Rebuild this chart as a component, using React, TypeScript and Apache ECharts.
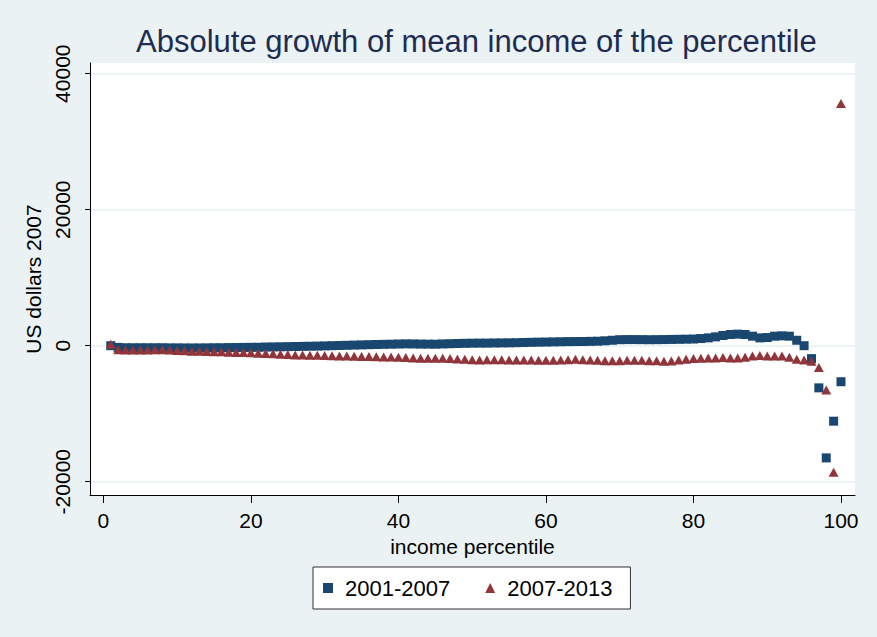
import React, { useEffect, useRef } from "react";
import * as echarts from "echarts";

const percentiles = [
  1, 2, 3, 4, 5, 6, 7, 8, 9, 10, 11, 12, 13, 14, 15, 16, 17, 18, 19, 20,
  21, 22, 23, 24, 25, 26, 27, 28, 29, 30, 31, 32, 33, 34, 35, 36, 37, 38, 39, 40,
  41, 42, 43, 44, 45, 46, 47, 48, 49, 50, 51, 52, 53, 54, 55, 56, 57, 58, 59, 60,
  61, 62, 63, 64, 65, 66, 67, 68, 69, 70, 71, 72, 73, 74, 75, 76, 77, 78, 79, 80,
  81, 82, 83, 84, 85, 86, 87, 88, 89, 90, 91, 92, 93, 94, 95, 96, 97, 98, 99, 100,
];

const growth2001_2007 = [
  0, -250, -300, -300, -300, -300, -300, -300, -320, -320,
  -330, -330, -330, -320, -300, -300, -280, -270, -250, -240,
  -230, -200, -180, -160, -140, -120, -100, -80, -60, -30,
  0, 30, 60, 90, 120, 150, 180, 200, 220, 250,
  270, 260, 240, 230, 220, 260, 290, 320, 350, 370,
  380, 380, 400, 410, 420, 440, 470, 500, 520, 540,
  560, 580, 600, 610, 620, 640, 660, 720, 800, 880,
  900, 900, 890, 880, 890, 900, 920, 940, 960, 980,
  1050, 1150, 1300, 1500, 1650, 1700, 1650, 1400, 1150, 1200,
  1400, 1450, 1400, 800, 0, -1900, -6200, -16500, -11100, -5300,
];

const growth2007_2013 = [
  200, -600, -650, -650, -650, -650, -600, -600, -650, -700,
  -750, -800, -800, -850, -900, -900, -950, -1000, -1000, -1050,
  -1100, -1150, -1200, -1250, -1300, -1350, -1380, -1400, -1420, -1450,
  -1480, -1500, -1520, -1550, -1580, -1600, -1620, -1650, -1680, -1700,
  -1750, -1800, -1850, -1850, -1850, -1850, -1900, -1950, -2000, -2050,
  -2100, -2050, -2050, -2050, -2100, -2100, -2100, -2100, -2150, -2150,
  -2150, -2100, -2050, -2000, -2050, -2100, -2150, -2200, -2200, -2200,
  -2150, -2150, -2150, -2200, -2200, -2300, -2250, -2100, -2000, -1900,
  -1850, -1800, -1800, -1750, -1800, -1800, -1700, -1500, -1450, -1500,
  -1500, -1500, -1700, -2000, -2100, -2300, -3200, -6500, -18600, 35600,
];

const xTicks = [0, 20, 40, 60, 80, 100];
const yTicks = [-20000, 0, 20000, 40000];
const seriesNames = ["2001-2007", "2007-2013"];

const FONT = "'Liberation Sans', Arial, Helvetica, sans-serif";

export default function App() {
  const ref = useRef<HTMLDivElement>(null);

  useEffect(() => {
    document.body.style.margin = "0";
    if (!ref.current) return;
    const chart = echarts.init(ref.current, null, { renderer: "svg" });
    const blue = percentiles.map((p, i) => [p, growth2001_2007[i]]);
    const red = percentiles.map((p, i) => [p, growth2007_2013[i]]);
    chart.setOption({
      animation: false,
      backgroundColor: "#eaf2f3",
      textStyle: { fontFamily: FONT },
      title: {
        text: "Absolute growth of mean income of the percentile",
        left: 136,
        top: 26,
        padding: 0,
        textStyle: {
          fontFamily: FONT,
          fontSize: 31,
          fontWeight: "normal",
          color: "#1e2b52",
        },
      },
      grid: {
        left: 90,
        right: 22,
        top: 63,
        bottom: 142,
        show: true,
        backgroundColor: "#ffffff",
        borderWidth: 0,
      },
      legend: {
        left: 313,
        top: 567,
        orient: "horizontal",
        backgroundColor: "#ffffff",
        borderColor: "#333333",
        borderWidth: 1,
        borderRadius: 0,
        padding: [10, 18, 10, 10],
        itemWidth: 10,
        itemHeight: 10,
        itemGap: 35,
        data: [
          { name: seriesNames[0], icon: "rect" },
          { name: seriesNames[1], icon: "triangle" },
        ],
        textStyle: {
          fontFamily: FONT,
          fontSize: 22,
          color: "#000",
          padding: [0, 0, 0, 7],
        },
      },
      xAxis: {
        type: "value",
        min: -1.817,
        max: 101.9,
        name: "income percentile",
        nameLocation: "middle",
        nameGap: 32,
        nameTextStyle: { fontFamily: FONT, fontSize: 21, color: "#000" },
        axisLine: { show: true, onZero: false, lineStyle: { color: "#000", width: 1 } },
        axisTick: { show: true, length: 8, customValues: xTicks, lineStyle: { color: "#000" } },
        axisLabel: {
          customValues: xTicks,
          margin: 15,
          fontFamily: FONT,
          fontSize: 21,
          color: "#000",
          formatter: (v: number) => String(v),
        },
        splitLine: { show: false },
      },
      yAxis: {
        type: "value",
        min: -21956,
        max: 41574,
        name: "US dollars 2007",
        nameLocation: "middle",
        nameGap: 35,
        nameRotate: 90,
        nameTextStyle: { fontFamily: FONT, fontSize: 21, color: "#000" },
        axisLine: { show: true, onZero: false, lineStyle: { color: "#000", width: 1 } },
        axisTick: { show: true, length: 5, customValues: yTicks, lineStyle: { color: "#000" } },
        axisLabel: {
          customValues: yTicks,
          rotate: 90,
          margin: 17,
          fontFamily: FONT,
          fontSize: 21,
          color: "#000",
          formatter: (v: number) => String(v),
        },
        splitLine: { show: true, lineStyle: { color: "#e6eff1", width: 1.5 } },
      },
      series: [
        {
          name: seriesNames[0],
          type: "scatter",
          symbol: "rect",
          symbolSize: 9,
          itemStyle: { color: "#1a476f", opacity: 1 },
          data: blue,
          z: 2,
        },
        {
          name: seriesNames[1],
          type: "scatter",
          symbol: "triangle",
          symbolSize: [10, 9],
          itemStyle: { color: "#90353b", opacity: 1 },
          data: red,
          z: 3,
        },
      ],
    });
    return () => chart.dispose();
  }, []);

  return <div ref={ref} style={{ width: 877, height: 637 }} />;
}
